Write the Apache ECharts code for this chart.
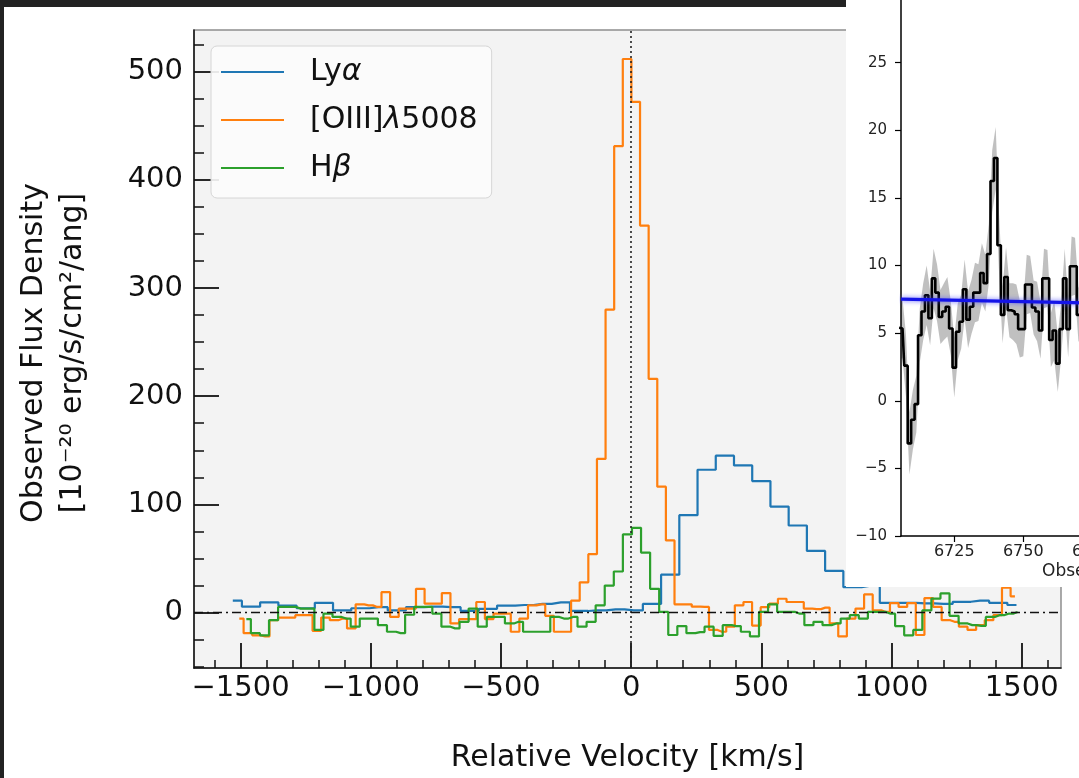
<!DOCTYPE html>
<html>
<head>
<meta charset="utf-8">
<title>Line profiles: Lyα, [OIII]λ5008, Hβ</title>
<script src="https://cdn.jsdelivr.net/npm/echarts@6.0.0/dist/echarts.min.js"></script>
<style>
  html, body { margin: 0; padding: 0; overflow: hidden; background: #ffffff; }
  #chart { width: 1140px; height: 778px; }
</style>
</head>
<body>
<div id="chart"></div>
<script>
// ---- Main panel: velocity profiles (km/s, 1e-20 erg/s/cm^2/Å) ----
const lyaVel = [-1530, -1460, -1390, -1320, -1250, -1180, -1110, -1040, -970, -900, -830, -760, -690, -620, -550,
  -480, -410, -340, -270, -200, -130, -60, 10, 80, 150, 220, 290, 360, 430, 500, 570, 640, 710, 780, 850, 920,
  990, 1060, 1130, 1200, 1270, 1340, 1410, 1480];
const lyaFlux = [11, 5.5, 9.5, 6.5, 4, 9, 2, 4, 5, 2, 5, 5.5, 5, 1.5, 3.5, 6.5, 7, 8, 9.5, 1.5, 2, 3, 2, 8,
  35, 90, 132, 145, 136, 121.5, 98, 80.5, 57, 38.5, 23.5, 25, 9, 9, 8.5, 8, 10, 11, 9, 7];

const oiiiVel = [-1505.0, -1471.9, -1438.8, -1405.7, -1372.6, -1339.5, -1306.4, -1273.3, -1240.2, -1207.1,
  -1174.0, -1140.9, -1107.8, -1074.7, -1041.6, -1008.5, -975.4, -942.3, -909.2, -876.1, -843.0, -809.9,
  -776.8, -743.7, -710.6, -677.5, -644.4, -611.3, -578.2, -545.1, -512.0, -478.9, -445.8, -412.7, -379.6,
  -346.5, -313.4, -280.3, -247.2, -214.1, -181.0, -147.9, -114.8, -81.7, -48.6, -15.5, 17.6, 50.7, 83.8,
  116.9, 150.0, 183.1, 216.2, 249.3, 282.4, 315.5, 348.6, 381.7, 414.8, 447.9, 481.0, 514.1, 547.2, 580.3,
  613.4, 646.5, 679.6, 712.7, 745.8, 778.9, 812.0, 845.1, 878.2, 911.3, 944.4, 977.5, 1010.6, 1043.7,
  1076.8, 1109.9, 1143.0, 1176.1, 1209.2, 1242.3, 1275.4, 1308.5, 1341.6, 1374.7, 1407.8, 1440.9, 1474.0];
const oiiiFlux = [-5.5, -19, -21, -22, -7, -4.6, -4.6, -2.4, -2.4, -16.8, -4.6, -7, -5.5, -14.6, 7.6, 6.7,
  5.2, 18.9, -4, 3.7, 3.7, 22, 8.2, 8.2, 18, -10, -6, -6, 9.8, -6, -1, -1, -17.7, -5.5, 6.7, 7.6, -3,
  -17.7, -17.7, 11, 28, 54, 142, 280, 431, 511.6, 472, 357.7, 216, 116.4, 66.7, 7.6, 7.6, 5.5, 5.2, -16,
  -17.7, -13, 6.7, 9.8, -12, 5, 8.2, 12.8, 9.8, 9.8, 3.7, 3.2, 4.6, -10, -22, -5.5, 3.7, 16.8, 2.1, 0.6,
  8.8, 5.2, 8.8, -20.7, 13.4, 5.2, -7, -8.5, -13, -16, -11.6, -7, -2.4, 23, 15];

const hbVel = [-1478.0, -1443.2, -1408.3, -1373.5, -1338.6, -1303.8, -1268.9, -1234.1, -1199.2, -1164.4,
  -1129.5, -1094.7, -1059.8, -1025.0, -990.1, -955.3, -920.4, -885.6, -850.7, -815.9, -781.0, -746.2,
  -711.3, -676.5, -641.6, -606.8, -571.9, -537.1, -502.2, -467.4, -432.5, -397.7, -362.8, -328.0, -293.1,
  -258.3, -223.4, -188.6, -153.7, -118.9, -84.0, -49.2, -14.3, 20.6, 55.4, 90.3, 125.1, 160.0, 194.8,
  229.7, 264.5, 299.4, 334.2, 369.1, 403.9, 438.8, 473.6, 508.5, 543.3, 578.2, 613.0, 647.9, 682.7, 717.6,
  752.4, 787.3, 822.1, 857.0, 891.8, 926.7, 961.5, 996.4, 1031.2, 1066.1, 1100.9, 1135.8, 1170.6, 1205.5,
  1240.3, 1275.2, 1310.0, 1344.9, 1379.7, 1414.6, 1449.4, 1484.3];
const hbFlux = [-6, -19, -21, -7, 5.2, 5.2, 3.7, 3.7, -16, -1, -4, -5.5, -13, -5.5, -5.5, -11.6, -17.7, -19,
  -2, 5.2, 5.2, -1, -13, -14.6, -8.5, 3.7, -13, -4, -4, -10, -8.5, -17.7, -17.7, -17.7, -4, -5.5, -4, -13,
  -8.5, 6.7, 25, 38, 72.2, 78.3, 55.5, 22, 0.6, -20.7, -12.5, -19, -18, -13, -21.6, -11.6, -12.5, -17.7,
  -22, 0.6, 7.6, 0.6, 0.6, -1, -11.6, -8.5, -11.6, -10, -5.5, -2.4, -5.5, 0.6, 0.6, -1, -12.5, -21, -16,
  2, 13, 17.7, -3, -10, -11.6, -12.2, -4, -2.4, -1, 0.6];

const velTicks = [-1500, -1000, -500, 0, 500, 1000, 1500];
const velMinorTicks = [-1600, -1400, -1300, -1200, -1100, -900, -800, -700, -600, -400, -300, -200, -100,
  100, 200, 300, 400, 600, 700, 800, 900, 1100, 1200, 1300, 1400, 1600];
const fluxTicks = [0, 100, 200, 300, 400, 500];
const fluxMinorTicks = [-50, -25, 25, 50, 75, 125, 150, 175, 225, 250, 275, 325, 350, 375, 425, 450, 475, 525];

// ---- Side panel: observed-frame spectrum around the line (Å) ----
const insetWave = [6705, 6706.25, 6707.5, 6708.75, 6710, 6711.25, 6712.5, 6713.75, 6715, 6716.25, 6717.5,
  6718.75, 6720, 6721.25, 6722.5, 6723.75, 6725, 6726.25, 6727.5, 6728.75, 6730, 6731.25, 6732.5, 6733.75,
  6735, 6736.25, 6737.5, 6738.75, 6740, 6741.25, 6742.5, 6743.75, 6745, 6746.25, 6747.5, 6748.75, 6750,
  6751.25, 6752.5, 6753.75, 6755, 6756.25, 6757.5, 6758.75, 6760, 6761.25, 6762.5, 6763.75, 6765, 6766.25,
  6767.5, 6768.75, 6770, 6771.25, 6772.5];
const insetFlux = [5.4, 5.35, 2.6, -3.15, -1.4, -0.25, 4.85, 6.6, 7.8, 6.1, 9.05, 8.0, 6.2, 6.6, 6.95, 5.35,
  2.45, 5.1, 5.85, 8.25, 6.0, 6.95, 8.0, 8.0, 9.45, 8.7, 10.85, 16.25, 17.95, 11.5, 6.35, 9.15, 6.7, 6.6,
  6.4, 5.3, 5.3, 8.6, 8.6, 6.9, 6.6, 5.2, 9.05, 9.05, 4.5, 5.2, 2.75, 5.3, 9.05, 5.3, 9.95, 9.95, 6.35,
  7.0, 8.2];
const insetErr = [2.3, 2.2, 2.3, 2.3, 2.2, 2.1, 2.0, 2.1, 2.2, 2.0, 2.2, 2.1, 2.0, 2.1, 2.2, 2.0, 2.2, 2.1,
  2.0, 2.2, 2.1, 2.0, 2.2, 2.1, 2.2, 2.1, 2.2, 2.3, 2.3, 2.2, 2.1, 2.2, 2.0, 2.1, 2.2, 2.1, 2.0, 2.2, 2.1,
  2.0, 2.2, 2.1, 2.2, 2.1, 2.0, 2.2, 2.1, 2.0, 2.2, 2.1, 2.2, 2.1, 2.0, 2.1, 2.2];
const contWave = [6705.7, 6790];
const contFlux = [7.52, 7.17];
const waveTicks = [6725, 6750, 6775];
const insetFluxTicks = [-10, -5, 0, 5, 10, 15, 20, 25];

const FONT = 'DejaVu Sans';
const TEXT = '#111111';
const withMinus = v => String(v).replace('-', '\u2212');
const plain = v => String(v);
const pairs = (xs, ys) => xs.map((x, i) => [x, ys[i]]);

const legendLabels = {
  'Ly\u03b1': '{n|Ly}{g|\u03b1}',
  '[OIII]\u03bb5008': '{n|[OIII]}{g|\u03bb}{n|5008}',
  'H\u03b2': '{n|H}{g|\u03b2}'
};

const chart = echarts.init(document.getElementById('chart'), null, { renderer: 'canvas' });

const option = {
  animation: false,
  backgroundColor: '#ffffff',
  grid: [
    { left: 194, top: 30, width: 867, height: 645, show: true, backgroundColor: '#f3f3f3',
      borderColor: '#8f8f8f', borderWidth: 1.5 },
    { left: 901, top: 0, width: 232.7, height: 536, show: false }
  ],
  legend: {
    data: ['Ly\u03b1', '[OIII]\u03bb5008', 'H\u03b2'],
    orient: 'vertical',
    left: 211, top: 46,
    padding: [11, 14, 15, 10],
    itemWidth: 63, itemHeight: 2.2, itemGap: 18,
    icon: 'rect',
    backgroundColor: 'rgba(252,252,252,0.9)',
    borderColor: '#d6d6d6', borderWidth: 1, borderRadius: 6,
    selectedMode: false,
    formatter: name => legendLabels[name],
    textStyle: {
      color: TEXT, fontFamily: FONT, fontSize: 30, lineHeight: 30, padding: [0, 0, 0, 21],
      rich: {
        n: { fontFamily: FONT, fontSize: 30, lineHeight: 30, color: TEXT },
        g: { fontFamily: FONT, fontSize: 30, lineHeight: 30, fontStyle: 'italic', color: TEXT }
      }
    }
  },
  xAxis: [
    { gridIndex: 0, type: 'value', position: 'bottom', min: -1679, max: 1651,
      axisLine: { onZero: false, lineStyle: { color: TEXT, width: 1.5 } },
      axisTick: { inside: true, length: 25, customValues: velTicks, lineStyle: { color: TEXT, width: 1.8 } },
      axisLabel: { customValues: velTicks, fontSize: 29, fontFamily: FONT, color: TEXT, margin: 6, formatter: withMinus },
      splitLine: { show: false },
      name: 'Relative Velocity [km/s]', nameLocation: 'middle', nameGap: 75,
      nameTextStyle: { fontSize: 30, fontFamily: FONT, color: TEXT } },
    { gridIndex: 0, type: 'value', position: 'bottom', min: -1679, max: 1651,
      axisLine: { show: false, onZero: false },
      axisTick: { inside: true, length: 8, customValues: velMinorTicks, lineStyle: { color: TEXT, width: 1.5 } },
      axisLabel: { show: false }, splitLine: { show: false } },
    { gridIndex: 1, type: 'value', position: 'bottom', min: 6705.7, max: 6790, z: 10,
      axisLine: { onZero: false, lineStyle: { color: '#000', width: 1.5 } },
      axisTick: { inside: false, length: 6, customValues: waveTicks, lineStyle: { color: '#000', width: 1.2 } },
      axisLabel: { customValues: waveTicks, fontSize: 16, fontFamily: FONT, color: '#222', margin: 8, formatter: plain },
      splitLine: { show: false } }
  ],
  yAxis: [
    { gridIndex: 0, type: 'value', position: 'left', min: -51.2, max: 538.4,
      axisLine: { onZero: false, lineStyle: { color: TEXT, width: 1.5 } },
      axisTick: { inside: true, length: 25, customValues: fluxTicks, lineStyle: { color: TEXT, width: 1.8 } },
      axisLabel: { customValues: fluxTicks, fontSize: 29, fontFamily: FONT, color: TEXT, margin: 11, formatter: withMinus },
      splitLine: { show: false } },
    { gridIndex: 0, type: 'value', position: 'left', min: -51.2, max: 538.4,
      axisLine: { show: false, onZero: false },
      axisTick: { inside: true, length: 10, customValues: fluxMinorTicks, lineStyle: { color: TEXT, width: 1.5 } },
      axisLabel: { show: false }, splitLine: { show: false } },
    { gridIndex: 1, type: 'value', position: 'left', min: -10, max: 29.64, z: 10,
      axisLine: { onZero: false, lineStyle: { color: '#000', width: 1.5 } },
      axisTick: { inside: false, length: 6, customValues: insetFluxTicks, lineStyle: { color: '#000', width: 1.2 } },
      axisLabel: { customValues: insetFluxTicks, fontSize: 15, fontFamily: FONT, color: '#222', margin: 14, formatter: withMinus },
      splitLine: { show: false } }
  ],
  graphic: [
    { type: 'rect', z: 5, silent: true, shape: { x: 846, y: 0, width: 300, height: 587 }, style: { fill: '#ffffff' } },
    { type: 'rect', z: 30, silent: true, shape: { x: 0, y: 0, width: 846, height: 7 }, style: { fill: '#222222' } },
    { type: 'rect', z: 30, silent: true, shape: { x: 0, y: 0, width: 4, height: 778 }, style: { fill: '#222222' } },
    { type: 'text', z: 6, silent: true, x: 54, y: 353, rotation: Math.PI / 2,
      style: { text: 'Observed Flux Density\n[10\u207b\u00b2\u2070 erg/s/cm\u00b2/ang]', fontSize: 30, fontFamily: FONT,
               align: 'center', verticalAlign: 'middle', lineHeight: 39, fill: TEXT } },
    { type: 'text', z: 12, silent: true, x: 1042, y: 563,
      style: { text: 'Observed Wavelength [\u00c5]', fontSize: 17, fontFamily: FONT, fill: '#222', align: 'left', verticalAlign: 'top' } }
  ],
  series: [
    { name: 'Ly\u03b1', type: 'line', step: 'middle', xAxisIndex: 0, yAxisIndex: 0, z: 2,
      data: pairs(lyaVel, lyaFlux), showSymbol: false, symbol: 'none', color: '#1f77b4',
      lineStyle: { width: 2.2, color: '#1f77b4' } },
    { name: '[OIII]\u03bb5008', type: 'line', step: 'middle', xAxisIndex: 0, yAxisIndex: 0, z: 2,
      data: pairs(oiiiVel, oiiiFlux), showSymbol: false, symbol: 'none', color: '#ff7f0e',
      lineStyle: { width: 2.2, color: '#ff7f0e' } },
    { name: 'H\u03b2', type: 'line', step: 'middle', xAxisIndex: 0, yAxisIndex: 0, z: 2,
      data: pairs(hbVel, hbFlux), showSymbol: false, symbol: 'none', color: '#2ca02c',
      lineStyle: { width: 2.2, color: '#2ca02c' },
      markLine: {
        silent: true, symbol: ['none', 'none'], label: { show: false },
        data: [
          { xAxis: 0, lineStyle: { type: [2, 3], color: '#222', width: 1.6 } },
          { yAxis: 0, lineStyle: { type: [9, 4, 2, 4], color: '#111', width: 1.3 } }
        ]
      } },
    { type: 'custom', xAxisIndex: 2, yAxisIndex: 2, z: 10, silent: true,
      data: [[insetWave[0], insetFlux[0]]],
      renderItem: function (params, api) {
        const upper = [], lower = [];
        for (let i = 0; i < insetWave.length; i++) {
          upper.push(api.coord([insetWave[i], insetFlux[i] + insetErr[i]]));
          lower.push(api.coord([insetWave[i], insetFlux[i] - insetErr[i]]));
        }
        const pts = echarts.graphic.clipPointsByRect(upper.concat(lower.reverse()), params.coordSys);
        return { type: 'polygon', shape: { points: pts }, style: { fill: 'rgba(140,140,140,0.55)' } };
      } },
    { type: 'line', step: 'middle', xAxisIndex: 2, yAxisIndex: 2, z: 11,
      data: pairs(insetWave, insetFlux), showSymbol: false, symbol: 'none',
      lineStyle: { width: 2.6, color: '#000000' } },
    { type: 'line', xAxisIndex: 2, yAxisIndex: 2, z: 12,
      data: pairs(contWave, contFlux), showSymbol: false, symbol: 'none',
      lineStyle: { width: 3.2, color: '#1414e8', shadowBlur: 5, shadowColor: 'rgba(70,70,255,0.8)' } }
  ]
};

chart.setOption(option);
</script>
</body>
</html>
